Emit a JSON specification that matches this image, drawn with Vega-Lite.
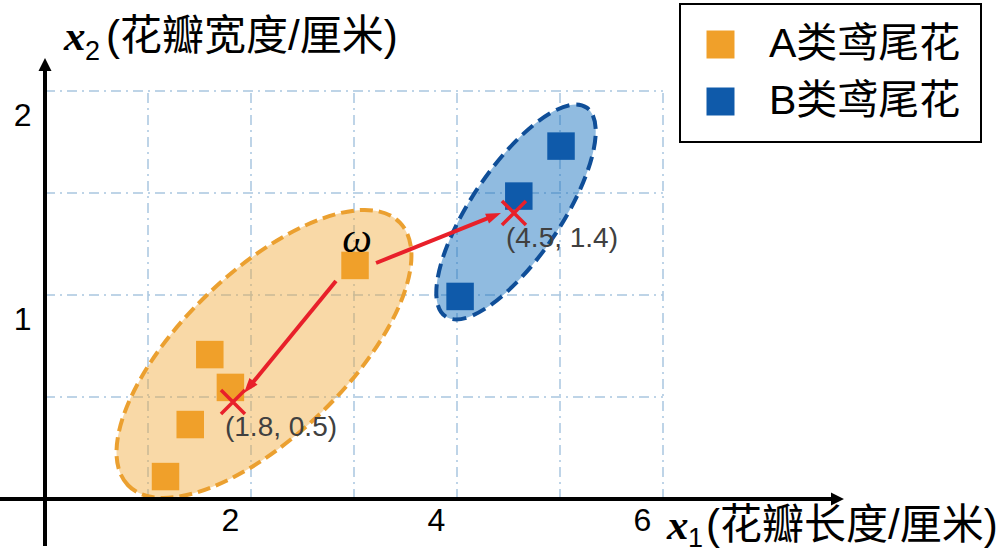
{
  "$schema": "https://vega.github.io/schema/vega-lite/v6.json",
  "autosize": "none",
  "width": 800,
  "height": 440,
  "padding": {"left": 45, "top": 59, "right": 155, "bottom": 53},
  "background": "white",
  "config": {
    "view": {"stroke": null},
    "font": "Liberation Sans",
    "legend": {"strokeWidth": 2}
  },
  "datasets": {
    "samples": [
      {"x": 1.17, "y": 0.11, "cls": "A类鸢尾花"},
      {"x": 1.41, "y": 0.365, "cls": "A类鸢尾花"},
      {"x": 1.6, "y": 0.708, "cls": "A类鸢尾花"},
      {"x": 1.8, "y": 0.547, "cls": "A类鸢尾花"},
      {"x": 3.01, "y": 1.145, "cls": "A类鸢尾花", "note": "ω"},
      {"x": 4.03, "y": 0.993, "cls": "B类鸢尾花"},
      {"x": 4.6, "y": 1.485, "cls": "B类鸢尾花"},
      {"x": 5.01, "y": 1.73, "cls": "B类鸢尾花"}
    ],
    "vgrid": [
      {"x": 1, "y": 0, "y2": 2},
      {"x": 2, "y": 0, "y2": 2},
      {"x": 3, "y": 0, "y2": 2},
      {"x": 4, "y": 0, "y2": 2},
      {"x": 5, "y": 0, "y2": 2},
      {"x": 6, "y": 0, "y2": 2}
    ],
    "hgrid": [
      {"y": 0.5, "x": 0, "x2": 6},
      {"y": 1, "x": 0, "x2": 6},
      {"y": 1.5, "x": 0, "x2": 6},
      {"y": 2, "x": 0, "x2": 6}
    ],
    "clusters": [
      {"cls": "A", "x": 2.126, "y": 0.711},
      {"cls": "B", "x": 4.573, "y": 1.407}
    ],
    "axes": [
      {"axis": "x", "x": -0.44, "y": 0, "x2": 7.66, "y2": 0},
      {"axis": "y", "x": 0, "y": -0.23, "x2": 0, "y2": 2.11}
    ],
    "tips": [
      {"axis": "x", "x": 7.757, "y": 0},
      {"axis": "y", "x": 0, "y": 2.162}
    ],
    "moves": [
      {"id": 1, "x": 2.825, "y": 1.069, "x2": 1.993, "y2": 0.556},
      {"id": 2, "x": 3.214, "y": 1.157, "x2": 4.337, "y2": 1.384}
    ],
    "heads": [
      {"id": 1, "x": 1.932, "y": 0.52},
      {"id": 2, "x": 4.427, "y": 1.402}
    ],
    "centers": [
      {"x": 1.825, "y": 0.475, "label": "(1.8, 0.5)"},
      {"x": 4.553, "y": 1.402, "label": "(4.5, 1.4)"}
    ]
  },
  "encoding": {
    "x": {
      "field": "x",
      "type": "quantitative",
      "scale": {"domain": [0, 7.767], "nice": false, "zero": false},
      "axis": {
        "values": [2, 4, 6],
        "title": null,
        "domain": false,
        "ticks": false,
        "grid": false,
        "labelOffset": -21,
        "labelPadding": 6,
        "labelFontSize": 32,
        "labelColor": "black",
        "labelFont": "Liberation Sans"
      }
    },
    "y": {
      "field": "y",
      "type": "quantitative",
      "scale": {"domain": [0, 2.157], "nice": false, "zero": false},
      "axis": {
        "values": [1, 2],
        "title": null,
        "domain": false,
        "ticks": false,
        "grid": false,
        "labelOffset": 24,
        "labelPadding": 14,
        "labelFontSize": 32,
        "labelColor": "black",
        "labelFont": "Liberation Sans"
      }
    }
  },
  "layer": [
    {
      "data": {"name": "vgrid"},
      "mark": {"type": "rule", "color": "#A9C6E0", "strokeWidth": 1.5, "strokeDash": [10, 5, 2, 5]},
      "encoding": {"y2": {"field": "y2"}}
    },
    {
      "data": {"name": "hgrid"},
      "mark": {"type": "rule", "color": "#A9C6E0", "strokeWidth": 1.5, "strokeDash": [10, 5, 2, 5]},
      "encoding": {"x2": {"field": "x2"}}
    },
    {
      "data": {"name": "clusters"},
      "transform": [{"filter": "datum.cls === 'A'"}],
      "mark": {
        "type": "point",
        "shape": "M -1 0 C -1 -0.24 -0.552 -0.434 0 -0.434 C 0.552 -0.434 1 -0.24 1 0 C 1 0.24 0.552 0.434 0 0.434 C -0.552 0.434 -1 0.24 -1 0 Z",
        "size": 142884,
        "angle": 316,
        "filled": true,
        "fill": "#F2AA3C",
        "fillOpacity": 0.45,
        "opacity": 1,
        "stroke": "#EBA030",
        "strokeWidth": 4,
        "strokeDash": [13, 6]
      }
    },
    {
      "data": {"name": "clusters"},
      "transform": [{"filter": "datum.cls === 'B'"}],
      "mark": {
        "type": "point",
        "shape": "M -1 0 C -1 -0.197 -0.552 -0.357 0 -0.357 C 0.552 -0.357 1 -0.197 1 0 C 1 0.197 0.552 0.357 0 0.357 C -0.552 0.357 -1 0.197 -1 0 Z",
        "size": 63504,
        "angle": 304,
        "filled": true,
        "fill": "#1870BE",
        "fillOpacity": 0.48,
        "opacity": 1,
        "stroke": "#0F4E98",
        "strokeWidth": 4,
        "strokeDash": [14, 7]
      }
    },
    {
      "data": {"name": "axes"},
      "mark": {"type": "rule", "color": "black", "strokeWidth": 4},
      "encoding": {"x2": {"field": "x2"}, "y2": {"field": "y2"}}
    },
    {
      "data": {"name": "tips"},
      "transform": [{"filter": "datum.axis === 'x'"}],
      "mark": {"type": "point", "shape": "M 0 0 L -2 -1 L -2 1 Z", "size": 169, "angle": 0, "filled": true, "color": "black", "opacity": 1}
    },
    {
      "data": {"name": "tips"},
      "transform": [{"filter": "datum.axis === 'y'"}],
      "mark": {"type": "point", "shape": "M 0 0 L -2 -1 L -2 1 Z", "size": 169, "angle": 270, "filled": true, "color": "black", "opacity": 1}
    },
    {
      "data": {"name": "samples"},
      "mark": {"type": "square", "size": 756, "opacity": 1},
      "encoding": {
        "color": {
          "field": "cls",
          "type": "nominal",
          "scale": {"domain": ["A类鸢尾花", "B类鸢尾花"], "range": ["#F0A02A", "#0F5AAA"]},
          "legend": {
            "orient": "none",
            "legendX": 635,
            "legendY": -55,
            "title": null,
            "strokeColor": "black",
            "fillColor": "white",
            "padding": 20,
            "symbolType": "square",
            "symbolSize": 784,
            "symbolStrokeWidth": 0,
            "symbolOpacity": 1,
            "labelFont": "Liberation Sans, Noto Sans CJK SC",
            "labelFontSize": 41,
            "labelColor": "black",
            "labelOffset": 28,
            "rowPadding": 15,
            "labelLimit": 400
          }
        }
      }
    },
    {
      "data": {"name": "moves"},
      "mark": {"type": "rule", "color": "#E8202A", "strokeWidth": 4},
      "encoding": {"x2": {"field": "x2"}, "y2": {"field": "y2"}}
    },
    {
      "data": {"name": "heads"},
      "transform": [{"filter": "datum.id === 1"}],
      "mark": {"type": "point", "shape": "M 0 0 L -2 -0.7 L -2 0.7 Z", "size": 225, "angle": 129.4, "filled": true, "color": "#E8202A", "opacity": 1}
    },
    {
      "data": {"name": "heads"},
      "transform": [{"filter": "datum.id === 2"}],
      "mark": {"type": "point", "shape": "M 0 0 L -2 -0.7 L -2 0.7 Z", "size": 225, "angle": 338.2, "filled": true, "color": "#E8202A", "opacity": 1}
    },
    {
      "data": {"name": "centers"},
      "mark": {"type": "point", "shape": "M -1 -1 L 1 1 M -1 1 L 1 -1", "size": 576, "filled": false, "color": "#E8202A", "strokeWidth": 3.5, "opacity": 1}
    },
    {
      "data": {"name": "centers"},
      "mark": {"type": "text", "align": "left", "baseline": "middle", "dx": -8, "dy": 26, "fontSize": 28, "font": "Liberation Sans", "color": "#404040"},
      "encoding": {"text": {"field": "label"}}
    },
    {
      "data": {"name": "samples"},
      "transform": [{"filter": "isValid(datum.note)"}],
      "mark": {"type": "text", "align": "center", "baseline": "middle", "dx": 2, "dy": -26, "fontSize": 42, "font": "Liberation Serif", "fontStyle": "italic", "color": "black"},
      "encoding": {"text": {"field": "note"}}
    },
    {
      "data": {"name": "tips"},
      "transform": [{"filter": "datum.axis === 'y'"}],
      "mark": {"type": "text", "text": "x", "align": "left", "baseline": "alphabetic", "dx": 19, "dy": -8, "fontSize": 43, "font": "Liberation Serif", "fontStyle": "italic", "fontWeight": "bold", "color": "black"}
    },
    {
      "data": {"name": "tips"},
      "transform": [{"filter": "datum.axis === 'y'"}],
      "mark": {"type": "text", "text": "2", "align": "left", "baseline": "alphabetic", "dx": 40, "dy": 2, "fontSize": 27, "font": "Liberation Sans", "color": "black"}
    },
    {
      "data": {"name": "tips"},
      "transform": [{"filter": "datum.axis === 'y'"}],
      "mark": {"type": "text", "text": "(花瓣宽度/厘米)", "align": "left", "baseline": "alphabetic", "dx": 61, "dy": -8, "fontSize": 42, "font": "Liberation Sans, Noto Sans CJK SC", "color": "black"}
    },
    {
      "data": {"name": "tips"},
      "transform": [{"filter": "datum.axis === 'x'"}],
      "mark": {"type": "text", "text": "x", "align": "left", "baseline": "alphabetic", "dx": -177, "dy": 40, "fontSize": 43, "font": "Liberation Serif", "fontStyle": "italic", "fontWeight": "bold", "color": "black"}
    },
    {
      "data": {"name": "tips"},
      "transform": [{"filter": "datum.axis === 'x'"}],
      "mark": {"type": "text", "text": "1", "align": "left", "baseline": "alphabetic", "dx": -156, "dy": 48, "fontSize": 27, "font": "Liberation Sans", "color": "black"}
    },
    {
      "data": {"name": "tips"},
      "transform": [{"filter": "datum.axis === 'x'"}],
      "mark": {"type": "text", "text": "(花瓣长度/厘米)", "align": "left", "baseline": "alphabetic", "dx": -138, "dy": 40, "fontSize": 42, "font": "Liberation Sans, Noto Sans CJK SC", "color": "black"}
    }
  ]
}
